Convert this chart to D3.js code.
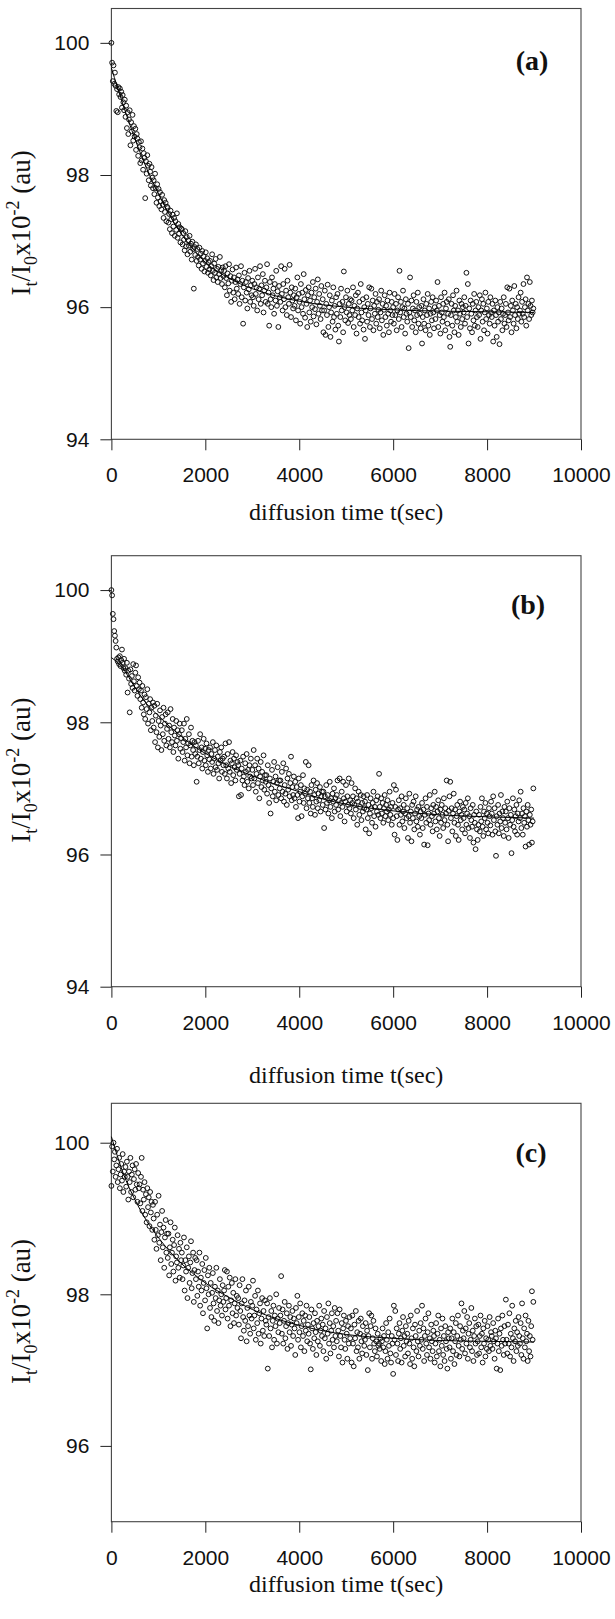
<!DOCTYPE html>
<html>
<head>
<meta charset="utf-8">
<script src="https://cdn.jsdelivr.net/npm/d3@7"></script>
<style>
  body { margin: 0; background: #fff; }
  svg { display: block; background: #fff; }
</style>
</head>
<body>
<svg id="chart" width="615" height="1619"></svg>
<script>
// --- Dữ liệu ---
const T_STEP = 15; // giây giữa hai mẫu, mẫu đầu ở t = 0
const xTicks = [0, 2000, 4000, 6000, 8000, 10000];
const yTicksAB = [94, 96, 98, 100];
const yTicksC = [96, 98, 100];

const valuesA = [
  100.00, 99.70, 99.42, 99.66, 99.38, 99.55, 99.35, 98.97, 99.30, 98.95, 99.33, 99.22, 99.31, 99.18, 99.26, 99.02, 99.21, 99.10, 98.98, 99.14,
  98.88, 99.05, 98.71, 98.95, 98.62, 98.84, 98.98, 98.45, 98.80, 98.66, 98.91, 98.52, 98.74, 98.58, 98.70, 98.38, 98.62, 98.55, 98.29, 98.50,
  98.42, 98.18, 98.51, 98.22, 98.40, 98.08, 98.33, 98.26, 97.65, 98.21, 98.02, 98.30, 98.14, 97.92, 98.17, 98.05, 97.84, 98.12, 97.96, 97.80,
  97.92, 97.71, 98.02, 97.80, 97.58, 97.86, 97.66, 97.79, 97.53, 97.74, 97.60, 97.48, 97.70, 97.55, 97.35, 97.62, 97.44, 97.58, 97.30, 97.52,
  97.50, 97.28, 97.41, 97.18, 97.46, 97.33, 97.12, 97.40, 97.22, 97.35, 97.08, 97.30, 97.17, 97.42, 97.05, 97.26, 97.11, 97.21, 96.98, 97.19,
  97.18, 96.95, 97.12, 97.02, 96.86, 97.15, 96.92, 97.06, 96.80, 97.01, 96.93, 97.08, 96.84, 96.96, 96.72, 96.99, 96.88, 96.28, 96.91, 96.79,
  96.95, 96.70, 96.88, 96.76, 96.63, 96.90, 96.72, 96.81, 96.58, 96.85, 96.66, 96.77, 96.54, 96.70, 96.83, 96.61, 96.74, 96.52, 96.68, 96.57,
  96.70, 96.48, 96.62, 96.80, 96.55, 96.41, 96.66, 96.52, 96.73, 96.45, 96.58, 96.38, 96.61, 96.50, 96.76, 96.44, 96.56, 96.35, 96.60, 96.47,
  96.55, 96.30, 96.62, 96.44, 96.18, 96.51, 96.36, 96.65, 96.25, 96.47, 96.08, 96.40, 96.57, 96.22, 96.45, 96.12, 96.38, 96.60, 96.28, 96.42,
  96.20, 96.48, 96.05, 96.35, 96.62, 96.15, 96.40, 95.75, 96.30, 96.52, 96.10, 96.38, 96.22, 95.98, 96.44, 96.27, 96.55, 96.08, 96.33, 96.18,
  96.40, 96.15, 96.02, 96.35, 96.58, 96.20, 96.30, 95.95, 96.45, 96.12, 96.28, 96.62, 96.05, 96.33, 96.18, 96.50, 95.92, 96.25, 96.40, 96.08,
  96.30, 96.65, 96.05, 96.22, 95.72, 96.38, 96.12, 96.00, 96.45, 96.18, 96.28, 95.90, 96.35, 96.10, 96.55, 96.02, 96.24, 95.70, 96.32, 96.15,
  96.08, 96.62, 96.20, 95.95, 96.35, 96.12, 96.58, 96.00, 96.25, 95.88, 96.40, 96.15, 96.05, 96.64, 96.22, 95.85, 96.30, 96.10, 95.98, 96.18,
  96.02, 96.28, 95.80, 96.15, 96.45, 95.95, 96.20, 96.08, 95.75, 96.35, 96.00, 96.22, 95.90, 96.50, 96.12, 95.84, 96.26, 96.05, 95.70, 96.18,
  96.30, 95.92, 96.10, 95.78, 96.22, 96.00, 96.38, 95.86, 96.15, 95.97, 96.28, 95.74, 96.08, 96.42, 95.90, 96.20, 96.02, 95.82, 96.32, 95.95,
  96.12, 95.62, 95.95, 96.25, 95.58, 96.05, 95.88, 96.34, 95.70, 96.00, 96.18, 95.55, 95.92, 96.10, 95.78, 96.30, 95.85, 96.02, 95.66, 96.15,
  95.90, 96.20, 95.72, 95.48, 96.05, 95.85, 96.28, 95.95, 96.08, 95.62, 96.54, 96.00, 95.80, 96.15, 95.92, 96.25, 95.76, 96.05, 95.88, 96.12,
  95.82, 96.10, 95.95, 96.30, 95.70, 96.02, 95.88, 96.18, 95.60, 95.98, 96.22, 95.85, 96.08, 95.75, 96.35, 95.92, 95.80, 96.12, 95.66, 96.00,
  95.52, 95.95, 96.15, 95.78, 96.05, 95.88, 96.30, 95.70, 95.98, 96.28, 95.82, 96.10, 95.65, 96.02, 95.90, 96.20, 95.75, 96.08, 95.85, 95.96,
  96.12, 95.68, 95.92, 96.25, 95.80, 96.05, 95.58, 95.96, 96.18, 95.85, 96.02, 95.72, 96.10, 95.90, 95.62, 96.22, 95.95, 95.78, 96.08, 95.88,
  96.00, 95.75, 96.20, 95.88, 96.05, 95.65, 95.95, 96.15, 95.82, 96.55, 95.92, 96.08, 95.70, 96.00, 96.25, 95.85, 95.98, 95.60, 96.12, 95.90,
  95.78, 96.05, 95.38, 95.92, 96.45, 95.85, 96.10, 95.70, 95.98, 96.18, 95.80, 95.95, 95.62, 96.08, 95.88, 96.22, 95.75, 96.00, 95.90, 95.68,
  96.02, 95.45, 95.85, 96.12, 95.75, 95.95, 95.65, 96.05, 95.88, 96.20, 95.72, 95.98, 95.58, 95.90, 96.08, 95.80, 96.15, 95.92, 95.68, 96.00,
  95.82, 96.10, 95.95, 96.38, 95.70, 96.02, 95.88, 95.60, 96.15, 95.92, 95.78, 96.05, 95.85, 96.22, 95.65, 95.98, 96.08, 95.75, 95.90, 96.12,
  95.55, 95.40, 95.88, 96.05, 95.72, 96.18, 95.95, 95.62, 96.02, 95.85, 96.25, 95.78, 95.95, 95.58, 96.10, 95.90, 95.70, 96.05, 95.82, 96.00,
  95.92, 96.15, 95.75, 96.02, 96.52, 95.85, 96.35, 95.45, 95.98, 95.68, 96.10, 95.90, 95.62, 96.05, 95.80, 96.20, 95.72, 95.95, 96.08, 95.85,
  95.70, 96.00, 95.88, 96.18, 95.52, 95.95, 96.12, 95.78, 96.05, 95.65, 95.92, 96.22, 95.82, 95.98, 95.60, 96.08, 95.88, 95.75, 96.15, 95.92,
  95.85, 96.05, 95.48, 95.95, 95.72, 96.10, 95.88, 95.55, 96.00, 95.78, 95.92, 95.44, 96.08, 95.82, 95.98, 95.65, 95.90, 96.15, 95.75, 95.88,
  96.05, 95.70, 96.30, 95.92, 95.80, 96.28, 95.85, 96.02, 95.62, 96.10, 95.95, 95.75, 96.32, 95.88, 96.05, 95.68, 96.00, 95.82, 96.15, 95.90,
  95.95, 96.22, 95.78, 96.08, 95.90, 96.35, 95.85, 96.00, 96.12, 95.72, 96.45, 95.95, 96.05, 95.82, 96.38, 96.02, 95.88, 96.10, 95.92, 95.98
];

const valuesB = [
  100.00, 99.92, 99.64, 99.56, 99.38, 99.31, 99.23, 99.13, 98.96, 98.92, 98.98, 98.88, 99.00, 98.85, 98.94, 99.10, 98.90, 98.82, 98.96, 98.78,
  98.82, 98.72, 98.90, 98.45, 98.78, 98.66, 98.15, 98.80, 98.58, 98.70, 98.52, 98.88, 98.62, 98.48, 98.75, 98.86, 98.55, 98.40, 98.68, 98.50,
  98.60, 98.35, 98.48, 98.22, 98.55, 98.30, 98.12, 98.42, 98.05, 98.38, 98.20, 98.50, 97.98, 98.28, 98.15, 98.35, 97.88, 98.22, 98.02, 98.30,
  97.92, 98.25, 97.70, 98.10, 97.85, 98.28, 97.62, 98.02, 97.78, 98.18, 97.95, 97.58, 98.08, 97.82, 98.22, 97.72, 97.98, 98.12, 97.65, 97.90,
  98.15, 97.75, 97.95, 97.62, 98.20, 97.85, 97.70, 98.05, 97.55, 97.92, 97.80, 97.65, 98.02, 97.72, 97.88, 97.45, 97.82, 97.98, 97.60, 97.76,
  97.88, 97.55, 97.70, 97.98, 97.42, 97.75, 97.62, 98.05, 97.50, 97.68, 97.82, 97.38, 97.65, 97.92, 97.48, 97.72, 97.58, 97.35, 97.70, 97.52,
  97.65, 97.10, 97.48, 97.72, 97.38, 97.58, 97.82, 97.45, 97.62, 97.30, 97.55, 97.75, 97.42, 97.60, 97.35, 97.68, 97.50, 97.25, 97.58, 97.44,
  97.62, 97.30, 97.52, 97.40, 97.70, 97.22, 97.45, 97.58, 97.32, 97.65, 97.28, 97.48, 97.38, 97.15, 97.55, 97.42, 97.62, 97.25, 97.45, 97.35,
  97.48, 97.22, 97.68, 97.35, 97.15, 97.52, 97.30, 97.70, 97.25, 97.42, 97.08, 97.38, 97.55, 97.20, 97.45, 97.32, 97.12, 97.50, 97.28, 97.40,
  97.35, 96.88, 97.22, 97.42, 96.90, 97.30, 97.12, 97.48, 97.18, 97.05, 97.38, 97.25, 97.52, 97.10, 97.28, 97.00, 97.35, 97.18, 97.45, 97.15,
  97.28, 97.05, 97.58, 97.15, 97.35, 96.95, 97.22, 97.45, 97.08, 97.30, 96.85, 97.18, 97.40, 97.02, 97.25, 97.12, 97.50, 96.98, 97.20, 97.10,
  97.20, 96.92, 97.35, 97.05, 96.78, 97.15, 96.62, 97.00, 97.28, 96.88, 97.10, 97.40, 96.95, 97.18, 96.82, 97.08, 97.32, 96.90, 97.12, 97.00,
  97.12, 96.85, 97.25, 96.95, 97.38, 96.80, 97.05, 96.92, 97.30, 96.75, 97.15, 96.98, 97.22, 96.88, 97.08, 97.48, 96.82, 97.02, 96.90, 97.18,
  96.85, 97.10, 96.72, 97.02, 96.90, 96.55, 97.15, 96.80, 96.95, 97.05, 96.58, 96.88, 97.20, 96.78, 97.00, 96.92, 97.40, 96.70, 96.98, 96.85,
  97.35, 96.78, 96.95, 96.62, 97.05, 96.85, 96.72, 97.12, 96.90, 96.60, 96.98, 96.80, 97.08, 96.70, 96.92, 96.82, 97.02, 96.65, 96.88, 96.95,
  96.75, 96.95, 96.40, 96.88, 96.68, 97.05, 96.78, 96.90, 96.62, 96.82, 97.10, 96.72, 96.85, 96.55, 96.92, 96.80, 97.00, 96.65, 96.85, 96.75,
  96.90, 97.12, 96.68, 96.82, 97.15, 96.58, 96.78, 96.95, 96.72, 97.10, 96.85, 96.50, 96.80, 97.05, 96.65, 96.88, 96.75, 97.15, 96.70, 96.82,
  96.62, 97.08, 96.78, 96.88, 96.55, 96.75, 97.00, 96.68, 96.85, 96.45, 96.80, 96.95, 96.60, 96.72, 96.90, 96.52, 96.78, 96.65, 96.88, 96.70,
  96.80, 96.38, 96.68, 96.90, 96.55, 96.75, 96.32, 96.62, 96.85, 96.70, 96.48, 96.78, 96.95, 96.58, 96.72, 96.42, 96.82, 96.65, 96.88, 96.60,
  97.22, 96.72, 96.55, 96.85, 96.62, 96.78, 96.48, 96.70, 96.90, 96.58, 96.75, 96.65, 96.82, 96.52, 96.68, 96.95, 96.60, 96.72, 96.45, 96.78,
  96.55, 97.05, 96.30, 96.72, 96.98, 96.58, 96.22, 96.68, 96.82, 96.45, 96.70, 96.60, 96.88, 96.50, 96.65, 96.75, 96.40, 96.62, 96.85, 96.55,
  96.70, 96.25, 96.58, 96.92, 96.48, 96.65, 96.20, 96.75, 96.55, 96.80, 96.38, 96.62, 96.88, 96.50, 96.68, 96.42, 96.72, 96.58, 96.30, 96.65,
  96.55, 96.78, 96.40, 96.68, 96.15, 96.60, 96.85, 96.48, 96.72, 96.14, 96.62, 96.52, 96.90, 96.45, 96.70, 96.58, 96.35, 96.75, 96.62, 96.95,
  96.50, 96.72, 96.38, 96.65, 96.82, 96.55, 96.28, 96.68, 96.48, 96.75, 96.60, 96.40, 96.85, 96.52, 96.70, 96.62, 97.12, 96.45, 96.20, 96.66,
  96.88, 97.10, 96.55, 96.70, 96.35, 96.62, 96.92, 96.48, 96.68, 96.28, 96.58, 96.75, 96.45, 96.22, 96.65, 96.80, 96.52, 96.60, 96.38, 96.72,
  96.55, 96.68, 96.32, 96.78, 96.45, 96.62, 96.85, 96.40, 96.58, 96.25, 96.70, 96.52, 96.42, 96.75, 96.18, 96.60, 96.48, 96.08, 96.65, 96.38,
  96.22, 96.45, 96.60, 96.35, 96.72, 96.50, 96.85, 96.42, 96.28, 96.65, 96.55, 96.78, 96.38, 96.62, 96.48, 96.32, 96.70, 96.58, 96.44, 96.80,
  96.62, 96.30, 96.88, 96.52, 96.70, 96.35, 95.98, 96.58, 96.45, 96.75, 96.32, 96.62, 96.50, 96.90, 96.40, 96.65, 96.55, 96.28, 96.72, 96.48,
  96.65, 96.38, 96.80, 96.55, 96.25, 96.70, 96.45, 96.60, 96.02, 96.52, 96.85, 96.42, 96.68, 96.35, 96.58, 96.75, 96.30, 96.62, 96.50, 96.82,
  96.55, 96.95, 96.40, 96.62, 96.30, 96.70, 96.48, 96.58, 96.12, 96.65, 96.42, 96.75, 96.52, 96.15, 96.60, 96.45, 96.68, 96.18, 96.50, 97.00
];

const valuesC = [
  99.43, 99.95, 99.62, 100.00, 99.78, 99.88, 99.55, 99.70, 99.92, 99.48, 99.65, 99.80, 99.40, 99.58, 99.72, 99.50, 99.85, 99.35, 99.62, 99.55,
  99.68, 99.42, 99.75, 99.55, 99.25, 99.62, 99.48, 99.80, 99.35, 99.58, 99.70, 99.28, 99.52, 99.65, 99.38, 99.72, 99.45, 99.22, 99.60, 99.40,
  99.45, 99.20, 99.55, 99.80, 99.10, 99.38, 99.25, 99.48, 99.05, 99.32, 98.95, 99.40, 99.15, 99.28, 98.90, 99.35, 99.08, 99.22, 98.85, 99.18,
  99.00, 98.72, 99.22, 98.85, 98.60, 99.05, 98.78, 99.30, 98.68, 98.92, 98.45, 98.82, 99.10, 98.62, 98.88, 98.35, 98.75, 98.98, 98.55, 98.80,
  98.48, 98.80, 98.25, 98.62, 98.95, 98.40, 98.55, 98.72, 98.30, 98.65, 98.88, 98.18, 98.50, 98.42, 98.78, 98.35, 98.60, 98.22, 98.68, 98.45,
  98.55, 98.20, 98.38, 98.75, 98.05, 98.45, 98.30, 98.62, 97.95, 98.35, 98.50, 98.15, 98.42, 98.70, 98.08, 98.28, 98.55, 97.90, 98.32, 98.48,
  98.20, 98.45, 97.98, 98.30, 98.10, 98.55, 97.85, 98.22, 98.05, 98.40, 97.75, 98.15, 98.32, 97.92, 98.48, 98.08, 97.55, 98.25, 98.00, 98.35,
  97.82, 98.15, 97.70, 98.02, 98.28, 97.88, 97.65, 98.10, 97.95, 98.35, 97.78, 98.05, 97.62, 97.92, 98.20, 97.85, 98.00, 97.72, 98.12, 97.90,
  98.05, 98.32, 97.80, 97.95, 98.30, 97.68, 98.10, 97.85, 98.22, 97.58, 97.92, 98.15, 97.75, 98.02, 97.62, 97.88, 98.20, 97.72, 97.98, 97.82,
  97.95, 97.60, 98.12, 97.78, 97.42, 97.88, 98.20, 97.70, 97.52, 97.92, 97.65, 98.05, 97.38, 97.82, 97.58, 98.10, 97.72, 97.48, 97.90, 97.68,
  97.85, 98.18, 97.55, 97.72, 97.98, 97.40, 97.80, 97.62, 98.05, 97.48, 97.75, 97.88, 97.35, 97.68, 97.95, 97.52, 97.78, 97.45, 97.92, 97.65,
  97.60, 97.88, 97.02, 97.70, 97.45, 97.95, 97.55, 97.78, 97.30, 97.65, 97.85, 97.40, 97.72, 97.58, 98.00, 97.35, 97.68, 97.50, 97.82, 97.62,
  97.72, 98.24, 97.48, 97.80, 97.35, 97.65, 97.90, 97.42, 97.58, 97.75, 97.28, 97.62, 97.85, 97.50, 97.70, 97.32, 97.60, 97.78, 97.45, 97.68,
  97.55, 97.20, 97.82, 97.62, 97.98, 97.40, 97.70, 97.50, 97.88, 97.30, 97.58, 97.75, 97.45, 97.65, 97.25, 97.72, 97.52, 97.85, 97.38, 97.60,
  97.48, 97.70, 97.35, 97.01, 97.80, 97.55, 97.28, 97.62, 97.42, 97.75, 97.50, 97.20, 97.65, 97.38, 97.58, 97.85, 97.32, 97.52, 97.68, 97.45,
  97.60, 97.25, 97.78, 97.42, 97.55, 97.15, 97.70, 97.48, 97.88, 97.35, 97.62, 97.22, 97.52, 97.75, 97.40, 97.58, 97.30, 97.82, 97.45, 97.65,
  97.38, 97.75, 97.52, 97.18, 97.80, 97.45, 97.30, 97.62, 97.10, 97.55, 97.72, 97.40, 97.28, 97.65, 97.48, 97.15, 97.58, 97.35, 97.70, 97.42,
  97.55, 97.10, 97.72, 97.35, 97.05, 97.60, 97.42, 97.78, 97.25, 97.50, 97.30, 97.65, 97.15, 97.48, 97.68, 97.38, 97.22, 97.58, 97.45, 97.32,
  97.40, 97.62, 97.20, 97.52, 97.00, 97.45, 97.75, 97.30, 97.58, 97.72, 97.15, 97.42, 97.65, 97.35, 97.25, 97.55, 97.38, 97.18, 97.48, 97.32,
  97.35, 97.28, 97.42, 97.12, 97.38, 97.55, 97.30, 97.45, 97.08, 97.25, 97.62, 97.40, 97.15, 97.50, 97.32, 97.68, 97.22, 97.10, 97.45, 97.35,
  96.95, 97.85, 97.40, 97.78, 97.20, 97.55, 97.35, 97.12, 97.48, 97.62, 97.28, 97.42, 97.10, 97.52, 97.70, 97.32, 97.45, 97.18, 97.58, 97.38,
  97.48, 97.22, 97.65, 97.35, 97.08, 97.72, 97.42, 97.15, 97.55, 97.30, 97.05, 97.60, 97.45, 97.25, 97.78, 97.38, 97.18, 97.52, 97.32, 97.62,
  97.40, 97.85, 97.28, 97.55, 97.12, 97.45, 97.68, 97.35, 97.20, 97.50, 97.75, 97.30, 97.42, 97.15, 97.60, 97.38, 97.25, 97.52, 97.45, 97.10,
  97.35, 97.62, 97.18, 97.48, 97.72, 97.25, 97.40, 97.05, 97.55, 97.32, 97.68, 97.20, 97.45, 97.12, 97.58, 97.38, 97.28, 97.02, 97.50, 97.42,
  97.30, 97.55, 97.15, 97.42, 97.68, 97.25, 97.50, 97.08, 97.38, 97.62, 97.20, 97.45, 97.72, 97.32, 97.18, 97.58, 97.40, 97.88, 97.28, 97.52,
  97.42, 97.78, 97.22, 97.55, 97.35, 97.70, 97.15, 97.48, 97.62, 97.30, 97.40, 97.82, 97.25, 97.52, 97.12, 97.45, 97.68, 97.35, 97.58, 97.20,
  97.38, 97.60, 97.22, 97.45, 97.72, 97.30, 97.48, 97.10, 97.55, 97.35, 97.65, 97.18, 97.42, 97.28, 97.58, 97.40, 97.25, 97.70, 97.32, 97.50,
  97.45, 97.28, 97.62, 97.38, 97.15, 97.52, 97.42, 97.02, 97.35, 97.68, 97.25, 97.48, 97.00, 97.55, 97.32, 97.72, 97.40, 97.20, 97.58, 97.35,
  97.93, 97.40, 97.22, 97.60, 97.35, 97.75, 97.18, 97.48, 97.30, 97.85, 97.42, 97.12, 97.55, 97.38, 97.65, 97.25, 97.50, 97.32, 97.70, 97.45,
  97.35, 97.62, 97.20, 97.88, 97.42, 97.15, 97.55, 97.30, 97.72, 97.38, 97.48, 97.12, 97.65, 97.25, 97.45, 97.18, 97.58, 98.04, 97.40, 97.90
];

// đường khớp (fit) đọc theo từng mốc thời gian
const fitA = [[0, 99.62], [250, 99.06], [500, 98.55], [750, 98.10], [1000, 97.72], [1250, 97.38], [1500, 97.10], [1750, 96.87], [2000, 96.68], [2500, 96.44], [3000, 96.28], [3500, 96.17], [4000, 96.09], [5000, 96.00], [6000, 95.96], [7000, 95.94], [8000, 95.93], [9000, 95.92]];
const fitB = [[0, 98.98], [250, 98.81], [500, 98.53], [750, 98.28], [1000, 98.10], [1250, 97.93], [1500, 97.78], [1750, 97.64], [2000, 97.53], [2500, 97.34], [3000, 97.19], [3500, 97.06], [4000, 96.95], [4500, 96.84], [5000, 96.76], [6000, 96.66], [7000, 96.60], [8000, 96.57], [9000, 96.55]];
const fitC = [[0, 100.08], [250, 99.60], [500, 99.25], [750, 98.97], [1000, 98.75], [1250, 98.56], [1500, 98.40], [1750, 98.27], [2000, 98.15], [2500, 97.96], [3000, 97.80], [3500, 97.68], [4000, 97.59], [4500, 97.52], [5000, 97.47], [6000, 97.42], [7000, 97.39], [8000, 97.38], [9000, 97.37]];

const panelLabels = ["(a)", "(b)", "(c)"];

// --- Bố cục từng khung ---
const panels = [
  { label: panelLabels[0], values: valuesA, fit: fitA, yDomain: [94, 100.52], yTicks: yTicksAB, top: 8.5, bottom: 439.3, labelX: 532, labelY: 70, titleY: 520 },
  { label: panelLabels[1], values: valuesB, fit: fitB, yDomain: [94, 100.52], yTicks: yTicksAB, top: 555.7, bottom: 986.7, labelX: 528, labelY: 614, titleY: 1083 },
  { label: panelLabels[2], values: valuesC, fit: fitC, yDomain: [95, 100.52], yTicks: yTicksC, top: 1103.3, bottom: 1521.7, labelX: 531, labelY: 1162, titleY: 1592 }
];

const svg = d3.select("#chart");
const left = 111.4, right = 581;
const numFont = "'Liberation Sans', Arial, sans-serif";
const serif = "'Liberation Serif', 'Times New Roman', serif";

panels.forEach(p => {
  const g = svg.append("g");

  const x = d3.scaleLinear().domain([0, 10000]).range([left, right]);
  const y = d3.scaleLinear().domain(p.yDomain).range([p.bottom, p.top]);

  // khung
  g.append("rect")
    .attr("x", left).attr("y", p.top)
    .attr("width", right - left).attr("height", p.bottom - p.top)
    .attr("fill", "none").attr("stroke", "#444").attr("stroke-width", 1.1);

  // trục X
  const ax = g.append("g")
    .attr("transform", `translate(0,${p.bottom})`)
    .call(d3.axisBottom(x).tickValues(xTicks).tickSize(11).tickPadding(17).tickFormat(d3.format("d")));
  ax.select(".domain").remove();
  ax.selectAll("line").attr("stroke", "#222");
  ax.selectAll("text").attr("font-family", numFont).attr("font-size", 21).attr("fill", "#111");

  // trục Y
  const ay = g.append("g")
    .attr("transform", `translate(${left},0)`)
    .call(d3.axisLeft(y).tickValues(p.yTicks).tickSize(11).tickPadding(11).tickFormat(d3.format("d")));
  ay.select(".domain").remove();
  ay.selectAll("line").attr("stroke", "#222");
  ay.selectAll("text").attr("font-family", numFont).attr("font-size", 21).attr("fill", "#111");

  // điểm đo
  g.append("g").selectAll("circle")
    .data(p.values)
    .join("circle")
      .attr("cx", (d, i) => x(i * T_STEP))
      .attr("cy", d => y(d))
      .attr("r", 2.4)
      .attr("fill", "none")
      .attr("stroke", "#111")
      .attr("stroke-width", 1);

  // đường khớp
  g.append("path")
    .datum(p.fit)
    .attr("fill", "none")
    .attr("stroke", "#000")
    .attr("stroke-width", 1)
    .attr("d", d3.line().x(d => x(d[0])).y(d => y(d[1])).curve(d3.curveMonotoneX));

  // nhãn khung (a), (b), (c)
  g.append("text")
    .attr("x", p.labelX).attr("y", p.labelY)
    .attr("text-anchor", "middle")
    .attr("font-family", serif).attr("font-weight", "bold").attr("font-size", 28)
    .attr("fill", "#111")
    .text(p.label);

  // tiêu đề trục X
  g.append("text")
    .attr("x", (left + right) / 2).attr("y", p.titleY)
    .attr("text-anchor", "middle")
    .attr("font-family", serif).attr("font-size", 24).attr("fill", "#111")
    .text("diffusion time t(sec)");

  // tiêu đề trục Y: I_t/I_0 x10^-2 (au)
  const cy = (p.top + p.bottom) / 2 - 1;
  const yt = g.append("text")
    .attr("transform", `translate(30,${cy}) rotate(-90)`)
    .attr("text-anchor", "middle")
    .attr("font-family", serif).attr("font-size", 27).attr("fill", "#111");
  yt.append("tspan").text("I");
  yt.append("tspan").attr("dy", 7).attr("font-size", 18).text("t");
  yt.append("tspan").attr("dy", -7).text("/I");
  yt.append("tspan").attr("dy", 7).attr("font-size", 18).text("0");
  yt.append("tspan").attr("dy", -7).text("x10");
  yt.append("tspan").attr("dy", -11).attr("font-size", 18).text("-2");
  yt.append("tspan").attr("dy", 11).text(" (au)");
});
</script>
</body>
</html>
